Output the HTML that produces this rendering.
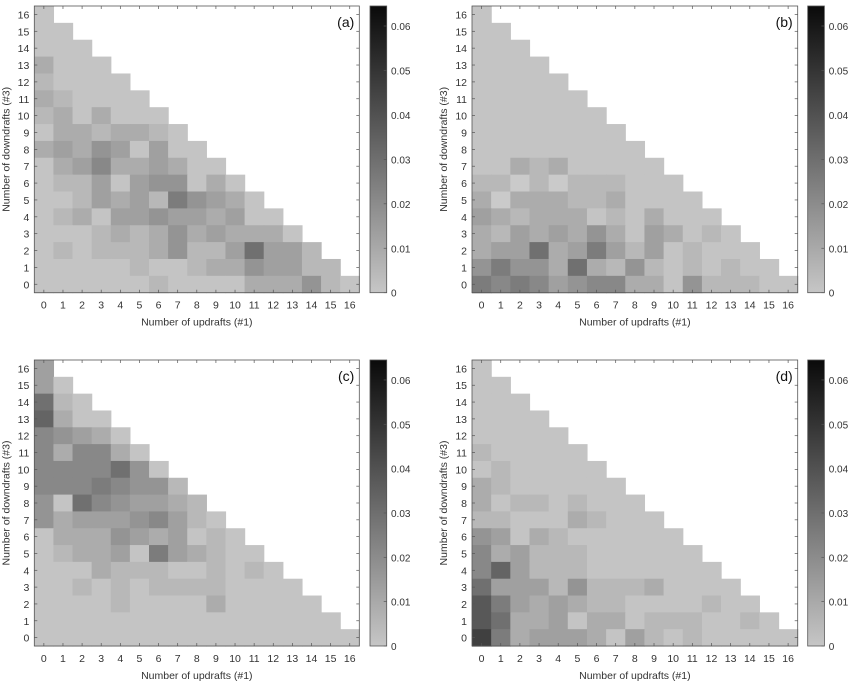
<!DOCTYPE html>
<html><head><meta charset="utf-8"><style>
body{margin:0;background:#fff;width:854px;height:683px;overflow:hidden}
svg{font-family:"Liberation Sans",sans-serif}
</style></head><body>
<svg id="s" width="854" height="683" xmlns="http://www.w3.org/2000/svg"></svg>
<script>
const D={
a:[[0],[0,0],[0,0,0],[2,0,0,0],[1,0,0,0,0],[2,1,0,0,0,0],[1,2,0,2,0,0,0],[0,2,2,1,2,2,1,0],[2,3,2,4,3,0,3,0,0],[0,2,3,5,2,2,3,2,0,0],[0,1,1,3,0,3,4,4,0,2,0],[0,0,1,3,2,3,1,6,4,3,2,0],[0,1,2,0,3,3,4,3,3,2,3,0,0],[0,0,0,1,2,1,2,4,2,3,2,2,2,0],[0,1,0,1,1,1,2,4,1,1,3,7,3,3,1],[0,0,0,0,0,1,0,0,1,2,2,4,3,3,1,1],[0,0,0,0,0,0,1,0,0,0,0,2,2,2,4,1,0]],
b:[[0],[0,0],[0,0,0],[0,0,0,0],[0,0,0,0,0],[0,0,0,0,0,0],[0,0,0,0,0,0,0],[0,0,0,0,0,0,0,0],[0,0,0,0,0,0,0,0,0],[0,0,2,1,2,0,0,0,0,0],[1,1,-.5,1,-.5,1,1,1,0,0,0],[2,-.5,2,2,2,1,1,2,0,0,0,0],[3,2,1,2,2,2,0,1,0,2,0,0,0],[2,1,3,2,3,2,4,2,0,3,2,0,1,0],[2,3,3,7,2,3,6,3,1,3,0,1,0,0,0],[4,6,4,4,2,7,2,1,4,1,0,1,0,1,0,0],[6,5,6,5,3,4,5,5,2,2,0,4,1,1,1,0,0]],
c:[[3],[3,0],[7,1,0],[8,2,0,0],[5,4,3,2,0],[5,2,5,5,2,0],[5,5,5,5,7,4,0],[5,5,5,6,5,4,4,1],[4,0,7,5,4,3,3,2,1],[4,2,3,3,3,4,5,3,1,0],[0,2,2,2,4,3,2,3,0,1,0],[0,1,2,2,3,0,6,3,2,1,0,0],[0,0,0,2,1,1,1,0,0,1,0,1,0],[0,0,1,0,1,0,1,1,1,1,0,0,0,0],[0,0,0,0,1,0,0,0,0,2,0,0,0,0,0],[0,0,0,0,0,0,0,0,0,0,0,0,0,0,0,0],[0,0,0,0,0,0,0,0,0,0,0,0,0,0,0,0,0]],
d:[[0],[0,0],[0,0,0],[0,0,0,0],[0,0,0,0,0],[1,0,0,0,0,0],[0,1,0,0,0,0,0],[2,1,0,0,0,0,0,0],[2,0,1,1,0,1,0,0,0],[1,1,0,0,0,2,1,0,0,0],[4,3,0,2,1,0,0,0,0,0,0],[5,2,3,1,1,1,0,0,0,0,0,0],[5,8,3,1,1,1,0,0,0,0,0,0,0],[7,3,3,3,1,4,1,1,1,2,0,0,0,0],[9,6,3,2,3,2,1,1,0,0,0,0,1,0,0],[9,7,2,2,3,0,2,2,0,1,1,1,0,0,1,0],[11,6,2,3,3,3,2,0,3,1,0,1,0,0,0,0,0]]};
const P=[['a',34.3,6,359.3,292.7,370],['b',472,6,797.7,292.7,807.7],['c',34.3,360,359.3,646,370],['d',472,360,797.7,646,807.7]];
let h='<defs><linearGradient id="g" x1="0" y1="1" x2="0" y2="0"><stop offset="0" stop-color="#c6c6c6"/><stop offset="1" stop-color="#0a0a0a"/></linearGradient></defs>';
for(const [k,x0,y0,x1,y1,cx] of P){
 const cw=(x1-x0)/17,rh=(y1-y0)/17,d=D[k];
 for(let r=0;r<17;r++){for(let i=0;i<d[r].length;i++){const g=Math.round(196-12*d[r][i]);
  h+=`<rect x="${(x0+i*cw).toFixed(2)}" y="${(y0+r*rh).toFixed(2)}" width="${(cw+0.6).toFixed(2)}" height="${(rh+0.6).toFixed(2)}" fill="rgb(${g},${g},${g})"/>`;}}
 h+=`<rect x="${x0}" y="${y0}" width="${x1-x0}" height="${y1-y0}" fill="none" stroke="#555" stroke-width="0.8"/>`;
 for(let i=0;i<17;i++){const x=x0+(i+.5)*cw,y=y0+(16-i+.5)*rh;
  h+=`<line x1="${x}" y1="${y1}" x2="${x}" y2="${y1-3}" stroke="#555" stroke-width=".7"/><line x1="${x}" y1="${y0}" x2="${x}" y2="${y0+3}" stroke="#555" stroke-width=".7"/>`;
  h+=`<line x1="${x0}" y1="${y}" x2="${x0+3}" y2="${y}" stroke="#555" stroke-width=".7"/><line x1="${x1}" y1="${y}" x2="${x1-3}" y2="${y}" stroke="#555" stroke-width=".7"/>`;
  h+=`<text x="${x}" y="${y1+16}" font-size="10.5" fill="#333" text-anchor="middle">${i}</text>`;
  h+=`<text x="${x0-5}" y="${y+4}" font-size="10.5" fill="#333" text-anchor="end">${i}</text>`;}
 h+=`<text x="${(x0+x1)/2}" y="${y1+33}" font-size="10.5" fill="#333" text-anchor="middle">Number of updrafts (#1)</text>`;
 const ym=(y0+y1)/2,tx=x0-25;
 h+=`<text x="${tx}" y="${ym}" font-size="10.5" fill="#333" text-anchor="middle" transform="rotate(-90 ${tx} ${ym})">Number of downdrafts (#3)</text>`;
 h+=`<text x="${x1-5}" y="${y0+21}" font-size="14" fill="#111" text-anchor="end">(${k})</text>`;
 h+=`<rect x="${cx}" y="${y0}" width="16.7" height="${y1-y0}" fill="url(#g)" stroke="#555" stroke-width=".8"/>`;
 const H=y1-y0,vmax=0.0645;
 for(let v=0;v<=6;v++){const y=y1-H*(v*0.01)/vmax;
  h+=`<line x1="${cx+16.7}" y1="${y}" x2="${cx+13.7}" y2="${y}" stroke="#555" stroke-width=".7"/>`;
  h+=`<text x="${cx+21}" y="${y+4}" font-size="10" fill="#333">${v==0?'0':'0.0'+v}</text>`;}
}
document.getElementById('s').innerHTML=h;
</script>
</body></html>
